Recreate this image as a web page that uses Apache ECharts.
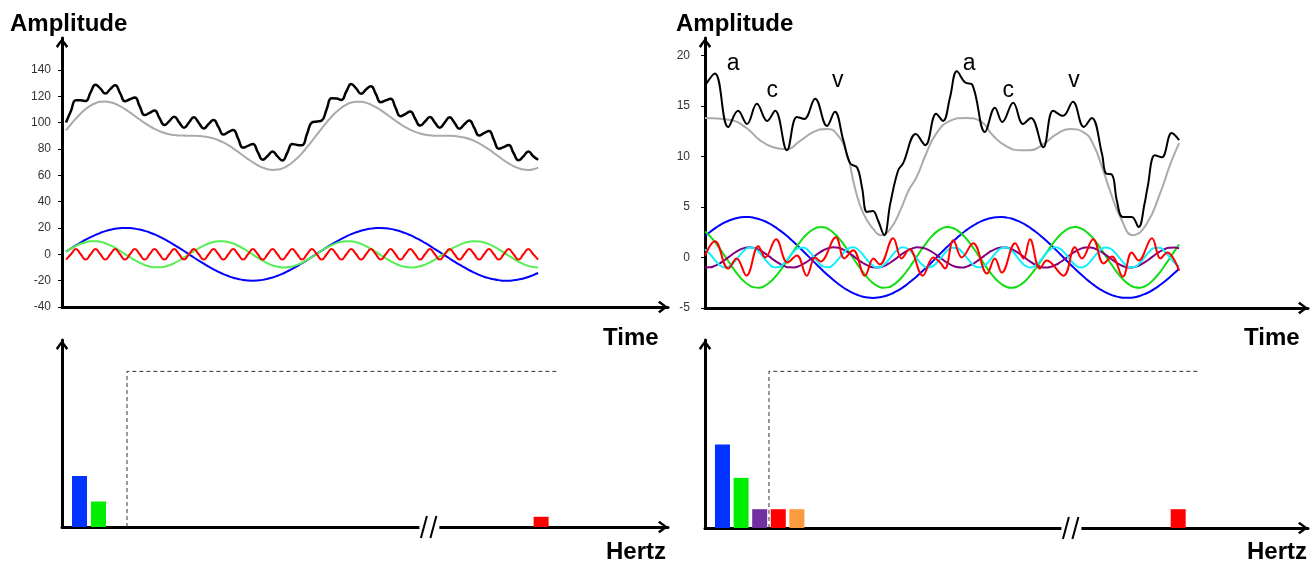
<!DOCTYPE html>
<html><head><meta charset="utf-8">
<script src="https://cdn.jsdelivr.net/npm/echarts@6/dist/echarts.min.js"></script>
<style>html,body{margin:0;padding:0;background:#fff}#c{width:1311px;height:563px}</style>
</head><body><div id="c"></div>
<script>
// ---------- DATA ----------
const sampleT = [0,1,2,3,4,5,6,7,8,9,10,11,12,13,14,15,16,17,18,19,20,21,22,23,24,25,26,27,28,29,30,31,32,33,34,35,36,37,38,39,40,41,42,43,44,45,46,47,48,49,50,51,52,53,54,55,56,57,58,59,60,61,62,63,64,65,66,67,68,69,70,71,72,73,74,75,76,77,78,79,80,81,82,83,84,85,86,87,88,89,90,91,92,93,94,95,96];

// left time panel
const blueL = [2.0,4.4,6.7,8.9,11.1,13.0,14.7,16.3,17.6,18.6,19.4,19.8,20.0,19.9,19.5,18.8,17.8,16.6,15.1,13.4,11.5,9.4,7.2,4.9,2.5,0.0,-2.4,-4.8,-7.1,-9.3,-11.4,-13.3,-15.0,-16.5,-17.8,-18.7,-19.5,-19.9,-20.0,-19.8,-19.4,-18.6,-17.6,-16.3,-14.8,-13.0,-11.1,-9.0,-6.8,-4.4,-2.0,0.4,2.8,5.2,7.5,9.7,11.7,13.6,15.3,16.7,17.9,18.9,19.5,19.9,20.0,19.8,19.3,18.5,17.4,16.1,14.5,12.7,10.8,8.6,6.4,4.0,1.6,-0.8,-3.2,-5.6,-7.9,-10.0,-12.1,-13.9,-15.6,-17.0,-18.1,-19.0,-19.6,-20.0,-20.0,-19.7,-19.1,-18.3,-17.2,-15.8,-14.2];
const greenL = [2.0,4.3,6.3,8.0,9.2,9.9,10.0,9.5,8.4,6.8,4.9,2.6,0.2,-2.2,-4.5,-6.5,-8.1,-9.3,-9.9,-9.9,-9.4,-8.3,-6.7,-4.7,-2.4,0.0,2.4,4.6,6.6,8.2,9.4,9.9,9.9,9.3,8.2,6.5,4.5,2.2,-0.2,-2.6,-4.8,-6.8,-8.4,-9.4,-10.0,-9.9,-9.2,-8.0,-6.4,-4.3,-2.0,0.4,2.8,5.0,6.9,8.5,9.5,10.0,9.9,9.2,7.9,6.2,4.1,1.8,-0.6,-3.0,-5.2,-7.1,-8.6,-9.6,-10.0,-9.8,-9.1,-7.8,-6.1,-4.0,-1.6,0.8,3.2,5.4,7.2,8.7,9.6,10.0,9.8,9.0,7.7,5.9,3.8,1.4,-1.0,-3.4,-5.5,-7.4,-8.8,-9.7,-10.0];
const redL = [-4,0,4,0,-4,0,4,0,-4,0,4,0,-4,0,4,0,-4,0,4,0,-4,0,4,0,-4,0,4,0,-4,0,4,0,-4,0,4,0,-4,0,4,0,-4,0,4,0,-4,0,4,0,-4,0,4,0,-4,0,4,0,-4,0,4,0,-4,0,4,0,-4,0,4,0,-4,0,4,0,-4,0,4,0,-4,0,4,0,-4,0,4,0,-4,0,4,0,-4,0,4,0,-4,0,4,0,-4];
const grayL = [94.0,98.7,103.0,106.9,110.3,112.9,114.7,115.8,116.0,115.4,114.3,112.4,110.2,107.7,105.0,102.3,99.7,97.3,95.2,93.5,92.1,91.1,90.5,90.2,90.1,90.0,90.0,89.8,89.5,88.9,88.0,86.6,84.9,82.8,80.4,77.8,75.0,72.3,69.8,67.6,65.8,64.6,64.0,64.3,65.2,67.1,69.7,73.0,76.8,81.3,86.0,90.8,95.6,100.2,104.4,108.2,111.2,113.6,115.2,115.9,115.8,115.1,113.6,111.7,109.4,106.8,104.1,101.4,98.8,96.5,94.5,92.9,91.7,90.8,90.3,90.0,90.0,90.0,90.0,89.8,89.3,88.7,87.5,86.1,84.2,82.0,79.6,76.9,74.2,71.4,69.0,66.9,65.4,64.3,64.0,64.5,65.8];
const blackL = [100.0,108.7,117.0,116.9,116.3,122.9,128.7,125.8,122.0,125.4,128.3,122.4,116.2,117.7,119.0,112.3,105.7,107.3,109.2,103.5,98.1,101.1,104.5,100.2,96.1,100.0,104.0,99.8,95.5,98.9,102.0,96.6,90.9,92.8,94.4,87.8,81.0,82.3,83.8,77.6,71.8,74.6,78.0,74.3,71.2,77.1,83.7,83.0,82.8,91.3,100.0,100.8,101.6,110.2,118.4,118.2,117.2,123.6,129.2,125.9,121.8,125.1,127.6,121.7,115.4,116.8,118.1,111.4,104.8,106.5,108.5,102.9,97.7,100.8,104.3,100.0,96.0,100.0,104.0,99.8,95.3,98.7,101.5,96.1,90.2,92.0,93.6,86.9,80.2,81.4,83.0,76.9,71.4,74.3,78.0,74.5,71.8];
const yTicksL = [-40,-20,0,20,40,60,80,100,120,140];

// right time panel
const blueR = [2.11,2.51,2.87,3.19,3.46,3.68,3.84,3.95,4.00,3.99,3.91,3.78,3.60,3.36,3.07,2.73,2.36,1.95,1.50,1.04,0.56,0.08,-0.41,-0.89,-1.36,-1.81,-2.23,-2.62,-2.97,-3.27,-3.53,-3.73,-3.88,-3.97,-4.00,-3.97,-3.88,-3.74,-3.54,-3.28,-2.98,-2.63,-2.24,-1.82,-1.37,-0.91,-0.43,0.06,0.55,1.03,1.49,1.93,2.35,2.72,3.06,3.35,3.59,3.78,3.91,3.98,4.00,3.95,3.85,3.68,3.47,3.20,2.88,2.52,2.13,1.70,1.24,0.77,0.29,-0.20,-0.69,-1.16,-1.62,-2.05,-2.46,-2.82,-3.15,-3.43,-3.65,-3.82,-3.94,-3.99,-3.99,-3.93,-3.81,-3.63,-3.40,-3.11,-2.78,-2.41,-2.01,-1.57,-1.11];
const greenR = [2.57,2.11,1.54,0.87,0.15,-0.58,-1.28,-1.90,-2.40,-2.77,-2.96,-2.99,-2.83,-2.51,-2.04,-1.45,-0.77,-0.04,0.69,1.37,1.98,2.46,2.80,2.98,2.98,2.80,2.45,1.96,1.35,0.66,-0.06,-0.79,-1.46,-2.05,-2.52,-2.84,-2.99,-2.96,-2.76,-2.39,-1.88,-1.26,-0.56,0.17,0.89,1.55,2.13,2.58,2.87,3.00,2.94,2.71,2.32,1.80,1.16,0.46,-0.27,-0.99,-1.64,-2.20,-2.63,-2.90,-3.00,-2.92,-2.67,-2.26,-1.71,-1.07,-0.36,0.38,1.08,1.73,2.27,2.68,2.93,3.00,2.90,2.62,2.19,1.63,0.97,0.25,-0.48,-1.18,-1.81,-2.34,-2.72,-2.95,-3.00,-2.87,-2.57,-2.11,-1.54,-0.87,-0.15,0.58,1.28];
const purpleR = [-0.99,-0.98,-0.83,-0.58,-0.25,0.11,0.46,0.75,0.94,1.00,0.93,0.74,0.45,0.10,-0.27,-0.59,-0.84,-0.98,-0.99,-0.86,-0.62,-0.30,0.06,0.41,0.71,0.92,1.00,0.95,0.77,0.49,0.15,-0.22,-0.55,-0.81,-0.97,-0.99,-0.89,-0.66,-0.35,0.01,0.37,0.68,0.89,1.00,0.96,0.80,0.54,0.20,-0.17,-0.51,-0.78,-0.95,-1.00,-0.91,-0.70,-0.40,-0.04,0.32,0.64,0.87,0.99,0.98,0.83,0.58,0.25,-0.11,-0.46,-0.75,-0.94,-1.00,-0.93,-0.74,-0.45,-0.10,0.27,0.59,0.84,0.98,0.99,0.86,0.62,0.30,-0.06,-0.41,-0.71,-0.92,-1.00,-0.95,-0.77,-0.49,-0.15,0.22,0.55,0.81,0.97,0.99,0.89];
const cyanR = [0.82,0.34,-0.27,-0.77,-1.00,-0.86,-0.42,0.18,0.71,0.99,0.90,0.49,-0.09,-0.65,-0.97,-0.94,-0.57,0.01,0.58,0.94,0.96,0.64,0.08,-0.51,-0.91,-0.98,-0.70,-0.17,0.43,0.87,1.00,0.76,0.25,-0.35,-0.82,-1.00,-0.82,-0.34,0.27,0.77,1.00,0.86,0.42,-0.18,-0.71,-0.99,-0.90,-0.49,0.09,0.65,0.97,0.94,0.57,-0.01,-0.58,-0.94,-0.96,-0.64,-0.08,0.51,0.91,0.98,0.70,0.17,-0.43,-0.87,-1.00,-0.76,-0.25,0.35,0.82,1.00,0.82,0.34,-0.27,-0.77,-1.00,-0.86,-0.42,0.18,0.71,0.99,0.90,0.49,-0.09,-0.65,-0.97,-0.94,-0.57,0.01,0.58,0.94,0.96,0.64,0.08,-0.51,-0.91];
const grayRT = [0,5.1,8.4,11.1,13.8,16.5,19.2,21.9,24.6,26.7,28.7,30.4,32.1,34.1,35.6,37.5,39.5,41.2,42.9,44.9,46.9,49.6,52.7,55.7,58.4,61.0,63.8,65.8,68.5,71.2,73.9,76.6,78.6,80.7,82.0,84.1,86.7,89.4,92.2,94.2,96.0];
const grayRV = [13.8,13.6,12.8,11.6,10.9,10.7,11.5,12.4,12.7,12.2,10.3,6.8,4.3,2.8,2.2,2.8,4.6,6.6,8.0,10.4,12.3,13.5,13.8,13.5,12.0,11.0,10.6,10.6,11.2,12.2,12.7,12.4,11.2,8.5,6.6,4.0,2.2,3.3,6.4,9.2,11.3];
const blackRT = [0,2.0,4.7,6.7,8.5,10.5,12.6,14.2,16.6,18.6,20.1,22.3,24.7,26.3,28.0,29.4,30.8,31.8,32.8,34.0,35.0,36.3,37.5,39.1,40.1,42.7,44.6,46.8,48.2,49.6,51.0,52.7,54.1,56.7,58.7,60.2,62.4,64.4,66.0,68.5,70.5,72.5,74.5,76.7,78.3,80.4,81.2,82.4,83.4,84.6,86.4,87.8,89.0,89.6,91.1,92.5,94.5,96.0];
const blackRV = [17.0,18.2,12.9,14.5,13.2,15.2,13.5,14.5,10.6,13.9,13.7,15.7,13.0,14.4,11.6,9.3,8.9,6.9,4.5,4.6,3.7,2.2,5.3,8.6,9.3,12.2,11.1,14.2,13.5,15.8,18.4,17.3,17.1,12.4,14.8,13.4,15.3,13.2,13.8,10.9,14.5,14.0,15.4,12.9,13.8,10.2,8.3,8.2,5.6,4.0,4.0,3.0,5.3,6.9,10.1,9.9,12.3,11.6];
const redRT = [0,2.0,4.7,6.4,8.4,10.8,12.2,14.4,16.7,18.6,20.6,22.3,23.4,26.5,28.2,30.0,32.4,34.1,35.4,38.1,39.8,41.4,44.1,46.2,47.6,48.6,50.3,52.0,54.3,57.1,58.7,60.1,62.8,64.5,65.8,67.8,69.2,72.6,74.9,76.3,78.6,80.7,82.4,84.6,86.4,87.8,90.5,92.2,93.6,96.0];
const redRV = [0.2,1.6,-1.1,-0.1,-1.8,1.1,0.0,1.8,-0.5,0.2,-1.8,0.0,-0.4,2.0,-0.1,0.7,-1.8,-0.1,-0.7,1.9,-0.1,0.8,-1.8,0.0,-0.5,-1.1,1.7,0.0,1.4,-1.6,-0.1,-1.5,1.4,-0.1,1.8,-1.1,-0.3,-1.8,1.0,-0.1,1.8,-0.6,0.1,-1.9,0.5,-0.3,1.9,-0.1,0.5,-1.3];
const yTicksR = [-5,0,5,10,15,20];
const annotText = ['a','c','v','a','c','v'];
const annotT = [5.7,13.6,26.9,53.5,61.4,74.7];
const annotV = [19.2,16.5,17.5,19.2,16.5,17.5];

// spectra
const specLFreq = [1,2,25.3];
const specLAmp = [20,10,4];
const cutoffLF = [3.5,3.5,26.1];
const cutoffLV = [0,61,61];
const breakLF = 19.42;
const specRFreq = [1,2,3,4,5,25.5];
const specRAmp = [4,2.4,0.9,0.9,0.9,0.9];
const cutoffRF = [3.5,3.5,26.6];
const cutoffRV = [0,7.5,7.5];
const breakRF = 19.76;

// ---------- STYLE ----------
const specLColors = ['#0033ff','#00ee00','#ff0000'];
const specRColors = ['#0033ff','#00ee00','#7030a0','#ff0000','#fb9a3f','#ff0000'];
const ARROW = 'path://M0,8 L6,0 L12,8 L10,9.6 L6,3.4 L2,9.6 Z';
const FONT = '"Liberation Sans", Arial, sans-serif';

const pairs = (xs, ys) => xs.map((x, i) => [x, ys[i]]);
function axLine() {
  return {show: true, onZero: false, lineStyle: {color: '#000', width: 3},
    symbol: ['none', ARROW], symbolSize: [13, 10], symbolOffset: [0, -5]};
}
function xAx(grid, min, max) {
  return {type: 'value', gridIndex: grid, min, max, axisLine: axLine(),
    axisTick: {show: false}, axisLabel: {show: false}, splitLine: {show: false}};
}
function yAx(grid, min, max, ticks, margin) {
  const o = {type: 'value', gridIndex: grid, min, max, axisLine: axLine(),
    splitLine: {show: false}, axisTick: {show: false}, axisLabel: {show: false}};
  if (ticks) {
    o.axisTick = {show: true, length: 4, customValues: ticks, lineStyle: {color: '#000', width: 1}};
    o.axisLabel = {show: true, customValues: ticks, margin, fontSize: 12, color: '#333', fontFamily: FONT};
  }
  return o;
}
function line(ai, xs, ys, color, width, smooth, z) {
  return {type: 'line', xAxisIndex: ai, yAxisIndex: ai, data: pairs(xs, ys), symbol: 'none',
    showSymbol: false, smooth, lineStyle: {color, width}, z, silent: true};
}

const chart = echarts.init(document.getElementById('c'));
chart.setOption({
  animation: false,
  backgroundColor: '#fff',
  grid: [
    {left: 62, top: 38, width: 606, height: 269},
    {left: 705, top: 38, width: 603, height: 270},
    {left: 62, top: 340, width: 606, height: 187},
    {left: 705, top: 340, width: 603, height: 188}
  ],
  xAxis: [xAx(0, -0.81, 122.4), xAx(1, 0, 122.1), xAx(2, 0.08, 31.98), xAx(3, 0.06, 32.48)],
  yAxis: [yAx(0, -40, 164.2, yTicksL, 11), yAx(1, -5, 21.7, yTicksR, 15), yAx(2, 0, 73.3), yAx(3, 0, 9.0)],
  series: [
    line(0, sampleT, grayL, '#aaaaaa', 2, 0.5, 2),
    line(0, sampleT, blackL, '#000000', 2.5, 0.5, 3),
    line(0, sampleT, blueL, '#0000ff', 2, 0.5, 4),
    line(0, sampleT, greenL, '#55ee55', 2, 0.5, 5),
    line(0, sampleT, redL, '#ff0000', 2, 0.5, 6),

    line(1, grayRT, grayRV, '#aaaaaa', 2, 0.5, 2),
    line(1, blackRT, blackRV, '#000000', 2, 0.4, 3),
    line(1, sampleT, blueR, '#0000ff', 2, 0.5, 4),
    line(1, sampleT, greenR, '#11dd11', 2, 0.5, 5),
    line(1, sampleT, purpleR, '#800080', 2, 0.5, 6),
    line(1, sampleT, cyanR, '#11eeff', 2, 0.5, 7),
    line(1, redRT, redRV, '#ff0000', 2, 0.4, 8),
    {type: 'scatter', xAxisIndex: 1, yAxisIndex: 1, symbolSize: 1, silent: true, z: 9,
      itemStyle: {color: 'rgba(0,0,0,0)'},
      data: annotT.map((t, i) => [t, annotV[i], annotText[i]]),
      label: {show: true, position: 'inside', formatter: p => p.data[2], fontSize: 23, color: '#000', opacity: 1, fontFamily: FONT}},

    {type: 'bar', xAxisIndex: 2, yAxisIndex: 2, barWidth: 15, silent: true,
      data: specLFreq.map((f, i) => ({value: [f, specLAmp[i]], itemStyle: {color: specLColors[i]}}))},
    {type: 'line', xAxisIndex: 2, yAxisIndex: 2, data: pairs(cutoffLF, cutoffLV), symbol: 'none', silent: true,
      lineStyle: {color: '#333', width: 1, type: [4, 3]}},
    {type: 'bar', xAxisIndex: 3, yAxisIndex: 3, barWidth: 15, silent: true,
      data: specRFreq.map((f, i) => ({value: [f, specRAmp[i]], itemStyle: {color: specRColors[i]}}))},
    {type: 'line', xAxisIndex: 3, yAxisIndex: 3, data: pairs(cutoffRF, cutoffRV), symbol: 'none', silent: true,
      lineStyle: {color: '#333', width: 1, type: [4, 3]}}
  ]
});

// decorations: axis-break marks on the frequency axes, and titles
const gfx = [];
[[2, breakLF], [3, breakRF]].forEach(([ai, f]) => {
  const p = chart.convertToPixel({xAxisIndex: ai, yAxisIndex: ai}, [f, 0]);
  gfx.push({type: 'rect', z: 100, shape: {x: p[0] - 10, y: p[1] - 3, width: 20, height: 6}, style: {fill: '#fff'}});
  gfx.push({type: 'line', z: 101, shape: {x1: p[0] - 8.5, y1: p[1] + 11, x2: p[0] - 2.5, y2: p[1] - 11}, style: {stroke: '#000', lineWidth: 2}});
  gfx.push({type: 'line', z: 101, shape: {x1: p[0] + 1, y1: p[1] + 11, x2: p[0] + 7, y2: p[1] - 11}, style: {stroke: '#000', lineWidth: 2}});
});
const titles = [
  ['Amplitude', 10, 24], ['Amplitude', 676, 24],
  ['Time', 603, 338], ['Time', 1244, 338],
  ['Hertz', 606, 552], ['Hertz', 1247, 552]
];
titles.forEach(([t, x, y]) => gfx.push({type: 'text', z: 100, x, y,
  style: {text: t, font: 'bold 24px ' + FONT, fill: '#000', verticalAlign: 'middle', align: 'left'}}));
chart.setOption({graphic: gfx});
</script>
</body></html>
